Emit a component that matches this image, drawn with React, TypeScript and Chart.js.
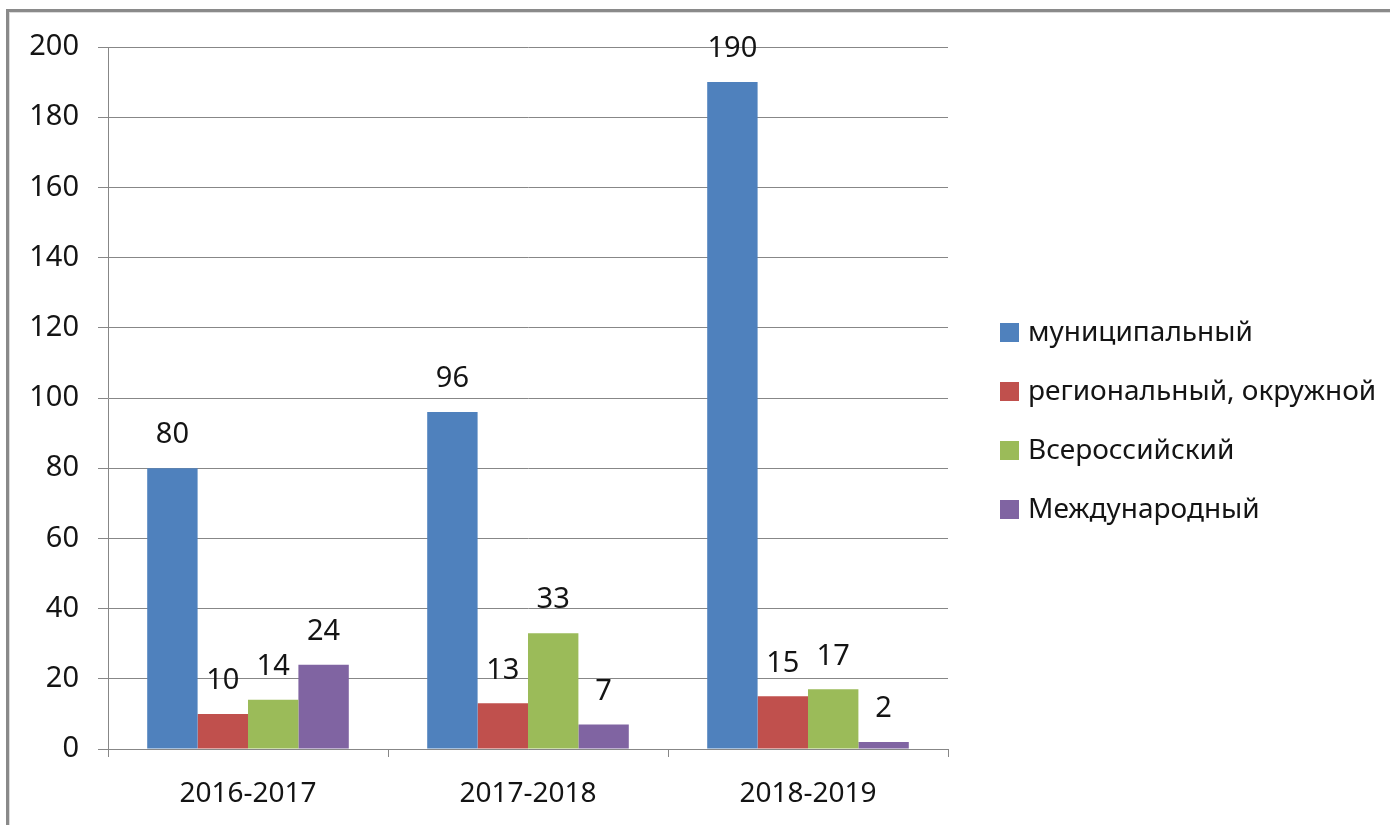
import React, { useEffect, useRef } from "react";
import { Chart, registerables } from "chart.js";

Chart.register(...registerables);

const categories = ["2016-2017", "2017-2018", "2018-2019"];
const seriesNames = ["муниципальный", "региональный, окружной", "Всероссийский", "Международный"];
const municipal = [80, 96, 190];
const regional = [10, 13, 15];
const allRussian = [14, 33, 17];
const international = [24, 7, 2];
const seriesColors = ["#4F81BD", "#C0504D", "#9BBB59", "#8064A2"];
const yMin = 0;
const yMax = 200;
const yStep = 20;

const FONT = "'Noto Sans', 'DejaVu Sans', sans-serif";
const TEXT = "#141414";
const GRID = "#878787";

const framePlugin = {
  id: "frame",
  beforeDraw(chart: any) {
    const ctx = chart.ctx;
    ctx.save();
    ctx.fillStyle = "#ffffff";
    ctx.fillRect(0, 0, chart.width, chart.height);
    ctx.fillStyle = "#8a8a8a";
    ctx.fillRect(6, 9, 3, chart.height);
    ctx.fillRect(6, 9, chart.width, 3);
    ctx.fillStyle = "#dcdcdc";
    ctx.fillRect(9, 12, 1, chart.height);
    ctx.fillRect(9, 12, chart.width, 1);
    ctx.restore();
  },
};

const labelPlugin = {
  id: "valueLabels",
  afterDatasetsDraw(chart: any) {
    const ctx = chart.ctx;
    ctx.save();
    ctx.font = `29px ${FONT}`;
    ctx.fillStyle = TEXT;
    ctx.textAlign = "center";
    ctx.textBaseline = "middle";
    chart.data.datasets.forEach((ds: any, i: number) => {
      const meta = chart.getDatasetMeta(i);
      meta.data.forEach((el: any, j: number) => {
        ctx.fillText(String(ds.data[j]), el.x, el.y - 33);
      });
    });
    ctx.restore();
  },
};

const legendPlugin = {
  id: "customLegend",
  afterDraw(chart: any) {
    const ctx = chart.ctx;
    ctx.save();
    ctx.font = `28px ${FONT}`;
    ctx.textAlign = "left";
    ctx.textBaseline = "middle";
    chart.data.datasets.forEach((ds: any, i: number) => {
      const cy = 332 + i * 59;
      ctx.fillStyle = ds.backgroundColor;
      ctx.fillRect(1000, cy - 9, 19, 19);
      ctx.fillStyle = TEXT;
      ctx.fillText(ds.label, 1028, cy + 1);
    });
    ctx.restore();
  },
};

export default function App() {
  const ref = useRef<HTMLCanvasElement | null>(null);
  useEffect(() => {
    if (!ref.current) return;
    const seriesValues = [municipal, regional, allRussian, international];
    const chart = new Chart(ref.current, {
      type: "bar",
      data: {
        labels: categories,
        datasets: seriesValues.map((vals, i) => ({
          label: seriesNames[i],
          data: vals,
          backgroundColor: seriesColors[i],
          borderWidth: 0,
          categoryPercentage: 0.72,
          barPercentage: 1,
        })),
      },
      options: {
        responsive: false,
        animation: false,
        devicePixelRatio: 1,
        layout: { padding: { left: 0, top: 47, right: 442, bottom: 0 } },
        plugins: {
          legend: { display: false },
          tooltip: { enabled: false },
        },
        scales: {
          x: {
            offset: true,
            grid: {
              offset: true,
              drawOnChartArea: false,
              drawTicks: true,
              tickLength: 8,
              color: GRID,
            },
            border: { display: true, color: GRID, width: 1 },
            ticks: {
              color: TEXT,
              font: { family: FONT, size: 28 },
              padding: 20,
            },
            afterFit: (s: any) => {
              s.height = 76;
            },
          },
          y: {
            min: yMin,
            max: yMax,
            ticks: {
              stepSize: yStep,
              color: TEXT,
              font: { family: FONT, size: 29 },
              padding: 19,
            },
            grid: {
              color: GRID,
              drawTicks: true,
              tickLength: 10,
            },
            border: { display: true, color: GRID, width: 1 },
            afterFit: (s: any) => {
              s.width = 108;
            },
          },
        },
      },
      plugins: [framePlugin, labelPlugin, legendPlugin],
    });
    return () => chart.destroy();
  }, []);
  return (
    <div style={{ position: "absolute", left: 0, top: 0, width: 1390, height: 825 }}>
      <canvas ref={ref} width={1390} height={825} style={{ display: "block" }} />
    </div>
  );
}
